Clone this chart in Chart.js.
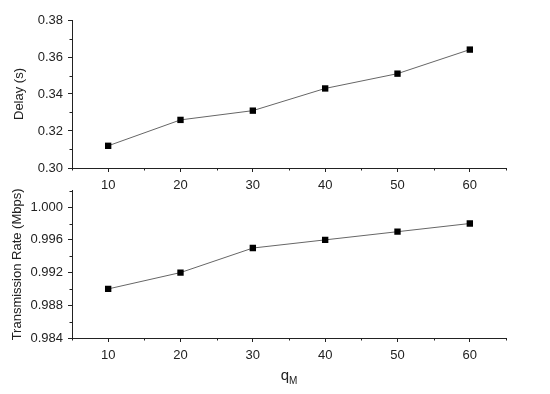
<!DOCTYPE html>
<html>
<head>
<meta charset="utf-8">
<script src="https://cdn.jsdelivr.net/npm/chart.js@4/dist/chart.umd.min.js"></script>
<style>
    body { margin: 0; background: #fff; }
    #wrap { position: relative; width: 550px; height: 394px; overflow: hidden; }
    #c1 { position: absolute; left: 0; top: 0; }
    #c2 { position: absolute; left: 0; top: 178px; }
    #xtitle {
        position: absolute; left: 0; width: 578px; top: 366px; text-align: center;
        font-family: "Liberation Sans", Arial, sans-serif; font-size: 15px; color: #222;
    }
    #xtitle sub { font-size: 10px; }
</style>
</head>
<body>
<div id="wrap">
    <canvas id="c1" width="550" height="200"></canvas>
    <canvas id="c2" width="550" height="192"></canvas>
    <div id="xtitle">q<sub>M</sub></div>
</div>
<script>
let qM = [10, 20, 30, 40, 50, 60];
let delay = [0.312, 0.326, 0.331, 0.343, 0.351, 0.364];
let rate = [0.990, 0.992, 0.995, 0.996, 0.997, 0.998];

let xMajor = [10, 20, 30, 40, 50, 60];
let xMinor = [5, 15, 25, 35, 45, 55, 65];
let delayTicks = [0.30, 0.32, 0.34, 0.36, 0.38];
let delayMinor = [0.31, 0.33, 0.35, 0.37];
let rateTicks = [0.984, 0.988, 0.992, 0.996, 1.000];
let rateMinor = [0.986, 0.990, 0.994, 0.998, 1.002];

const FONT = "'Liberation Sans', Arial, sans-serif";
const INK = '#222';

// small outward ticks between the labelled ones
const minorTicks = {
    id: 'minorTicks',
    afterDraw(chart, args, opts) {
        let ctx = chart.ctx;
        let xs = chart.scales.x;
        let ys = chart.scales.y;
        ctx.save();
        ctx.strokeStyle = INK;
        ctx.lineWidth = 1;
        ctx.beginPath();
        opts.x.forEach(v => {
            let px = Math.round(xs.getPixelForValue(v)) + 0.5;
            ctx.moveTo(px, xs.top);
            ctx.lineTo(px, xs.top + 2.5);
        });
        opts.y.forEach(v => {
            let py = Math.round(ys.getPixelForValue(v)) + 0.5;
            ctx.moveTo(ys.right, py);
            ctx.lineTo(ys.right - 2.5, py);
        });
        ctx.stroke();
        ctx.restore();
    }
};

function makePanel(id, values, yMin, yMax, yTicks, yMinor, digits, title, titlePad, padTop, xHeight) {
    const ctx = document.querySelector(id);
    const data = {
        labels: qM,
        datasets: [{
            data: qM.map((q, i) => ({ x: q, y: values[i] })),
            borderColor: '#666',
            borderWidth: 1,
            pointStyle: 'rect',
            pointRadius: 4.5,
            pointBackgroundColor: '#000',
            pointBorderColor: '#000',
            pointBorderWidth: 0,
            tension: 0
        }]
    };
    const config = {
        type: 'line',
        data: data,
        plugins: [minorTicks],
        options: {
            responsive: false,
            animation: false,
            layout: { padding: { top: padTop, right: 44, left: 0, bottom: 0 } },
            plugins: {
                legend: { display: false },
                tooltip: { enabled: false },
                minorTicks: { x: xMinor, y: yMinor }
            },
            scales: {
                x: {
                    type: 'linear',
                    min: 5,
                    max: 65,
                    afterBuildTicks: s => { s.ticks = xMajor.map(v => ({ value: v })); },
                    afterFit: s => { s.height = xHeight; },
                    border: { display: true, color: INK, width: 1 },
                    grid: { drawOnChartArea: false, drawTicks: true, tickLength: 4, color: INK },
                    ticks: { color: INK, padding: 6, maxRotation: 0, font: { family: FONT, size: 13 } }
                },
                y: {
                    min: yMin,
                    max: yMax,
                    afterBuildTicks: s => { s.ticks = yTicks.map(v => ({ value: v })); },
                    afterFit: s => { s.width = 72; },
                    border: { display: true, color: INK, width: 1 },
                    grid: { drawOnChartArea: false, drawTicks: true, tickLength: 4, color: INK },
                    ticks: {
                        color: INK, padding: 5, font: { family: FONT, size: 13 },
                        callback: v => Number(v).toFixed(digits)
                    },
                    title: {
                        display: true, text: title, color: INK,
                        padding: { top: titlePad, bottom: 0 },
                        font: { family: FONT, size: 13 }
                    }
                }
            }
        }
    };
    new Chart(ctx, config);
}

makePanel('#c1', delay, 0.30, 0.38, delayTicks, delayMinor, 2, 'Delay (s)', 12, 20, 32);
makePanel('#c2', rate, 0.984, 1.002, rateTicks, rateMinor, 3, 'Transmission Rate (Mbps)', 10, 5, 32);
</script>
</body>
</html>
